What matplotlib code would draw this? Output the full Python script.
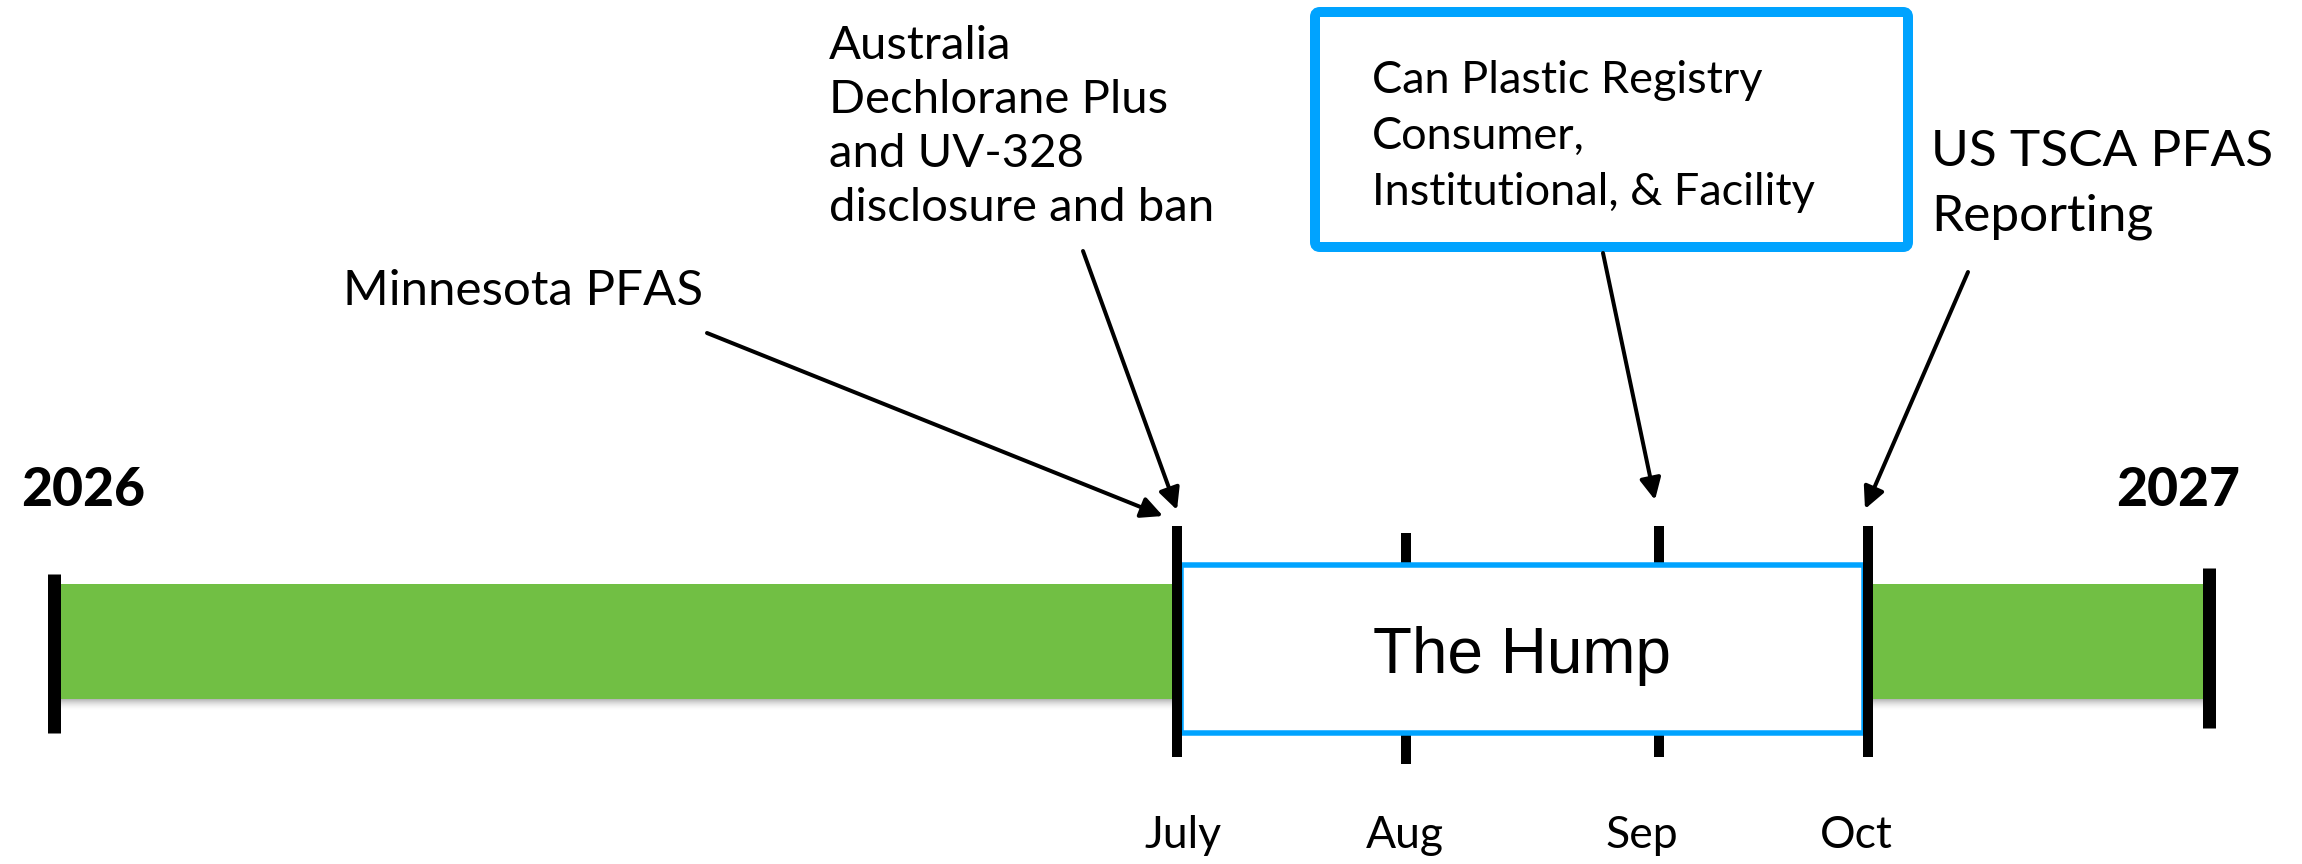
import matplotlib
matplotlib.use('Agg')

import matplotlib.pyplot as plt
from matplotlib.patches import Rectangle, FancyBboxPatch

# everything is laid out in pixel units of the 2302x864 canvas
W, H = 2302, 864
PX = 72 / 100  # points per pixel at dpi 100

years = ['2026', '2027']
year_bar_x = [54, 2209]          # black end bars of the green timeline
year_label_x = [21, 2116]

months = ['July', 'Aug', 'Sep', 'Oct']
month_tick_x = [1177, 1406, 1659, 1868]
month_tick_top = [526, 533, 526, 526]
month_label_x = [1183, 1405, 1642, 1856]

hump_label = 'The Hump'

event_lines = [
    ['Minnesota PFAS'],
    ['Australia', 'Dechlorane Plus', 'and UV-328', 'disclosure and ban'],
    ['Can Plastic Registry', 'Consumer,', 'Institutional, & Facility'],
    ['US TSCA PFAS', 'Reporting'],
]
event_text_xy = [(343, 305), (829, 59), (1372, 93), (1931, 166)]
event_line_gap = [0, 54, 56, 64]
event_font = [35.5, 34, 32.5, 37]
event_arrow_from = [(707, 333), (1083, 251), (1603, 253), (1968, 272)]
event_arrow_to = [(1163, 516), (1177, 510), (1655, 500), (1865, 509)]

GREEN = '#71bf44'
BLUE = '#00a3ff'
FONT = ['Lato', 'DejaVu Sans']

fig = plt.figure(figsize=(W / 100, H / 100), dpi=100)
ax = fig.add_axes([0, 0, 1, 1])
ax.set_xlim(0, W)
ax.set_ylim(H, 0)
ax.axis('off')

# green timeline bar + soft shadow under it
bar_top, bar_bot = 584, 699
ax.add_patch(Rectangle((year_bar_x[0], bar_top), year_bar_x[1] - year_bar_x[0],
                       bar_bot - bar_top, facecolor=GREEN, edgecolor='none', zorder=2))
for i in range(12):
    ax.add_patch(Rectangle((year_bar_x[0], bar_bot + i), year_bar_x[1] - year_bar_x[0], 1,
                           facecolor='black', alpha=0.28 * (1 - i / 12) ** 2,
                           edgecolor='none', zorder=1))

# year end bars
for x in year_bar_x:
    top, bot = (574, 733) if x == year_bar_x[0] else (568, 728)
    ax.plot([x, x], [top, bot], color='black', lw=13 * PX, solid_capstyle='butt', zorder=5)
for lab, x in zip(years, year_label_x):
    ax.text(x, 506, lab, fontsize=38.5, fontweight='black', family=FONT,
            ha='left', va='baseline', zorder=6)

# month ticks: Aug/Sep sit under the hump box, July/Oct frame it
for i, x in enumerate(month_tick_x):
    top = month_tick_top[i]
    z = 5 if months[i] in ('July', 'Oct') else 2.5
    ax.plot([x, x], [top, top + 231], color='black', lw=10 * PX,
            solid_capstyle='butt', zorder=z)
for lab, x in zip(months, month_label_x):
    ax.text(x, 848, lab, fontsize=32, family=FONT, ha='center', va='baseline')

# the hump box
hx0, hx1 = month_tick_x[0] + 4, month_tick_x[3] - 4
ax.add_patch(Rectangle((hx0, 565), hx1 - hx0, 168, facecolor='white',
                       edgecolor=BLUE, lw=5.5 * PX, zorder=3))
ax.text((hx0 + hx1) / 2, 673, hump_label, fontsize=46, family=['Liberation Sans'],
        ha='center', va='baseline', zorder=4)

# boxed event callout
ax.add_patch(FancyBboxPatch((1315, 12), 593, 235,
                            boxstyle='round,pad=0,rounding_size=5',
                            facecolor='white', edgecolor=BLUE, lw=10 * PX, zorder=3))

# event labels and arrows
for lines, (tx, ty), gap, fs, a0, a1 in zip(event_lines, event_text_xy, event_line_gap,
                                            event_font, event_arrow_from, event_arrow_to):
    for k, line in enumerate(lines):
        ax.text(tx, ty + k * gap, line, fontsize=fs, family=FONT,
                ha='left', va='baseline', zorder=6)
    ax.annotate('', xy=a1, xytext=a0,
                arrowprops=dict(arrowstyle='-|>,head_length=0.65,head_width=0.32',
                                color='black', lw=4 * PX, mutation_scale=20,
                                shrinkA=0, shrinkB=0),
                zorder=6)

fig.savefig('out.png', dpi=100, facecolor='white')
plt.close(fig)
